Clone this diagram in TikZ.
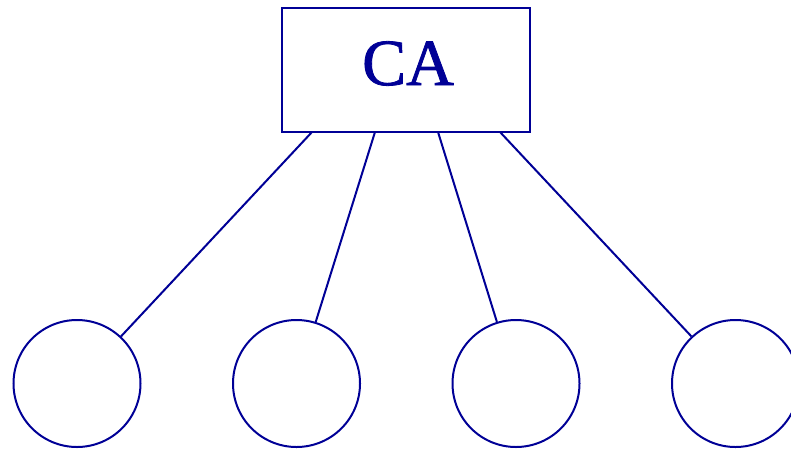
\documentclass[tikz,border=0pt]{standalone}
\usepackage{fontspec}
\setmainfont{Liberation Serif}
\newfontfamily\cafont{Liberation Serif}[FakeBold=1.2]
\definecolor{dblue}{RGB}{0,0,150}
\begin{document}
\begin{tikzpicture}[x=1pt,y=-1pt,
  cabox/.style={draw=dblue,line width=2pt,minimum width=248pt,minimum height=124pt,inner sep=0pt},
  catext/.style={text=dblue,font=\cafont\fontsize{66}{72}\selectfont,inner sep=0pt},
  leaf/.style={draw=dblue,line width=2pt,circle,minimum size=127pt,inner sep=0pt},
  link/.style={draw=dblue,line width=2pt}]
\useasboundingbox (0,0) rectangle (791,450);
\node[cabox] (ca) at (406,70) {};
\node[catext] (cat) at (408,63.5) {CA};
\node[leaf] (c1) at (77,383.5) {};
\node[leaf] (c2) at (296.5,383.5) {};
\node[leaf] (c3) at (516,383.5) {};
\node[leaf] (c4) at (735.5,383.5) {};
\coordinate (p1) at (312,132);
\coordinate (p2) at (375,132);
\coordinate (p3) at (438,132);
\coordinate (p4) at (500,132);
\draw[link] (p1) -- (c1);
\draw[link] (p2) -- (c2);
\draw[link] (p3) -- (c3);
\draw[link] (p4) -- (c4);
\end{tikzpicture}
\end{document}
